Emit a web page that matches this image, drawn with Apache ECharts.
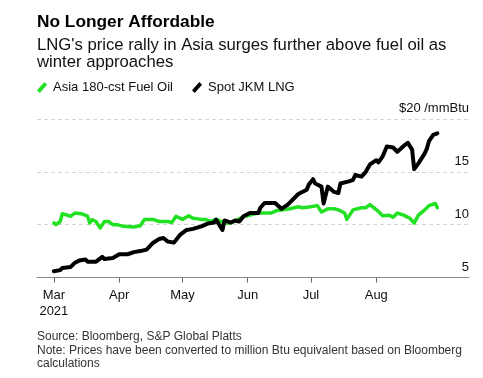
<!DOCTYPE html>
<html>
<head>
<meta charset="utf-8">
<script src="https://cdn.jsdelivr.net/npm/echarts@6/dist/echarts.min.js"></script>
<style>
html,body{margin:0;padding:0;background:#fff;}
#chart{width:483px;height:378px;}
</style>
</head>
<body>
<div id="chart"></div>
<script>
// ---- Data ----
const seriesNames = ['Asia 180-cst Fuel Oil', 'Spot JKM LNG'];

const fuelOilDates = ['2021-03-01','2021-03-02','2021-03-04','2021-03-05','2021-03-09','2021-03-11','2021-03-14','2021-03-17','2021-03-18','2021-03-19','2021-03-21','2021-03-23','2021-03-25','2021-03-27','2021-03-29','2021-03-31',
  '2021-04-03','2021-04-08','2021-04-11','2021-04-13','2021-04-17','2021-04-20','2021-04-24','2021-04-26','2021-04-28',
  '2021-05-01','2021-05-04','2021-05-06','2021-05-10','2021-05-12','2021-05-14','2021-05-17','2021-05-21','2021-05-24','2021-05-27','2021-05-31',
  '2021-06-02','2021-06-06','2021-06-09','2021-06-12','2021-06-15','2021-06-18','2021-06-21','2021-06-25','2021-06-27','2021-06-30',
  '2021-07-04','2021-07-06','2021-07-09','2021-07-12','2021-07-14','2021-07-17','2021-07-18','2021-07-21','2021-07-25','2021-07-27','2021-07-29',
  '2021-08-02','2021-08-04','2021-08-07','2021-08-09','2021-08-11','2021-08-14','2021-08-17','2021-08-19','2021-08-21','2021-08-24','2021-08-26','2021-08-29','2021-08-30'];
const fuelOilValues = [10.16,10.0,10.3,11.04,10.8,11.1,11.04,10.8,10.16,10.47,10.3,9.69,10.3,10.3,10.0,10.0,
  9.84,9.78,9.9,10.5,10.5,10.3,10.3,10.2,10.8,
  10.5,10.85,10.6,10.5,10.5,10.3,10.5,10.16,10.16,10.47,10.8,
  10.9,11.1,11.1,11.1,11.35,11.4,11.5,11.7,11.6,11.67,
  11.8,11.2,11.5,11.5,11.4,11.1,10.5,11.4,11.6,11.6,11.9,
  11.25,10.85,10.9,10.7,11.1,10.9,10.6,10.16,10.9,11.4,11.8,12.0,11.6];

const lngDates = ['2021-03-01','2021-03-04','2021-03-05','2021-03-09','2021-03-11','2021-03-13','2021-03-16','2021-03-17','2021-03-21','2021-03-24','2021-03-25','2021-03-29',
  '2021-04-01','2021-04-05','2021-04-08','2021-04-11','2021-04-14','2021-04-17','2021-04-20','2021-04-22','2021-04-24','2021-04-27','2021-04-30',
  '2021-05-03','2021-05-06','2021-05-10','2021-05-13','2021-05-16','2021-05-17','2021-05-20','2021-05-21','2021-05-24','2021-05-26','2021-05-28','2021-05-30',
  '2021-06-02','2021-06-06','2021-06-07','2021-06-09','2021-06-14','2021-06-17','2021-06-20','2021-06-23','2021-06-25','2021-06-29','2021-06-30',
  '2021-07-02','2021-07-03','2021-07-06','2021-07-07','2021-07-09','2021-07-12','2021-07-14','2021-07-15','2021-07-19','2021-07-21','2021-07-22','2021-07-25','2021-07-27','2021-07-29',
  '2021-08-01','2021-08-02','2021-08-04','2021-08-06','2021-08-09','2021-08-11','2021-08-14','2021-08-16','2021-08-18','2021-08-19','2021-08-21','2021-08-24','2021-08-25','2021-08-26','2021-08-28','2021-08-30'];
const lngValues = [5.6,5.7,5.9,6.0,6.4,6.6,6.7,6.5,6.5,6.95,6.75,6.85,
  7.2,7.2,7.4,7.5,7.64,8.27,8.65,8.74,8.4,8.3,9.06,
  9.5,9.6,9.84,10.1,10.2,10.47,9.5,10.4,10.2,10.4,10.3,10.8,
  11.1,11.1,11.6,12.05,12.05,11.5,11.9,12.5,12.9,13.3,13.8,
  14.3,13.9,13.6,12.0,13.6,13.1,13.0,13.9,14.1,14.25,14.7,14.55,15.0,15.7,
  16.1,15.9,16.45,17.4,17.3,16.9,17.45,17.75,17.1,15.25,15.8,16.75,17.2,17.9,18.5,18.65];

const monthTickDates = ['2021-03-01','2021-04-01','2021-05-01','2021-06-01','2021-07-01','2021-08-01'];
const monthTickLabels = ['Mar\n2021','Apr','May','Jun','Jul','Aug'];
const yTicks = [5, 10, 15, 20];
const yTickLabels = ['5', '10', '15', '$20 /mmBtu'];

const titleText = 'No Longer Affordable';
const subtitleText = "LNG's price rally in Asia surges further above fuel oil as\nwinter approaches";
const footerText = 'Source: Bloomberg, S&P Global Platts\nNote: Prices have been converted to million Btu equivalent based on Bloomberg\ncalculations';

// ---- Build ----
function ts(s) { const p = s.split('-').map(Number); return Date.UTC(p[0], p[1]-1, p[2]); }
const tickTs = monthTickDates.map(ts);
const font = 'Liberation Sans, Arial, sans-serif';

const chart = echarts.init(document.getElementById('chart'), null, {renderer: 'canvas'});
chart.setOption({
  animation: false,
  backgroundColor: '#fff',
  textStyle: {fontFamily: font},
  title: [
    {text: titleText, left: 37, top: 14, padding: 0,
     textStyle: {fontFamily: font, fontSize: 17.3, fontWeight: 'bold', color: '#000'}},
    {text: subtitleText, left: 37, top: 37, padding: 0,
     textStyle: {fontFamily: font, fontSize: 16.7, fontWeight: 'normal', color: '#111', lineHeight: 17}},
    {text: footerText, left: 37, top: 330, padding: 0,
     textStyle: {fontFamily: font, fontSize: 12, fontWeight: 'normal', color: '#333', lineHeight: 13.5}}
  ],
  legend: {
    left: 37, top: 81, padding: 0, itemGap: 19, itemWidth: 12, itemHeight: 11,
    icon: 'path://M0,9 L8,0 L11,3 L3,12 Z',
    textStyle: {fontFamily: font, fontSize: 13, color: '#111'},
    data: seriesNames
  },
  grid: {left: 37, right: 14, top: 119, bottom: 100.5, containLabel: false},
  xAxis: {
    type: 'value',
    min: ts('2021-02-21'),
    max: ts('2021-09-14'),
    axisLine: {show: true, lineStyle: {color: '#8a8a8a', width: 1}},
    axisTick: {show: true, customValues: tickTs, length: 5, lineStyle: {color: '#666'}},
    axisLabel: {
      customValues: tickTs,
      showMinLabel: true, showMaxLabel: true,
      margin: 10,
      fontSize: 13, color: '#111', fontFamily: font, lineHeight: 16,
      formatter: function (v) {
        const i = tickTs.indexOf(v);
        return i >= 0 ? monthTickLabels[i] : '';
      }
    },
    splitLine: {show: false}
  },
  yAxis: {
    type: 'value', position: 'right', min: 5, max: 20, interval: 5,
    axisLine: {show: false}, axisTick: {show: false},
    axisLabel: {
      inside: true, margin: 0, fontSize: 13, color: '#111', fontFamily: font,
      verticalAlign: 'bottom', padding: [0, 0, 4, 0],
      formatter: function (v) { const i = yTicks.indexOf(v); return i >= 0 ? yTickLabels[i] : ''; }
    },
    splitLine: {show: true, lineStyle: {color: '#d4d4d4', type: [4, 3], width: 1}}
  },
  series: [
    {name: seriesNames[0], type: 'line', showSymbol: false, symbol: 'none',
     color: '#22e022',
     lineStyle: {color: '#22e022', width: 3.5, cap: 'round', join: 'round'},
     data: fuelOilDates.map((d, i) => [ts(d), fuelOilValues[i]]), z: 2},
    {name: seriesNames[1], type: 'line', showSymbol: false, symbol: 'none',
     color: '#000',
     lineStyle: {color: '#000', width: 4, cap: 'round', join: 'round'},
     data: lngDates.map((d, i) => [ts(d), lngValues[i]]), z: 3}
  ]
});
</script>
</body>
</html>
